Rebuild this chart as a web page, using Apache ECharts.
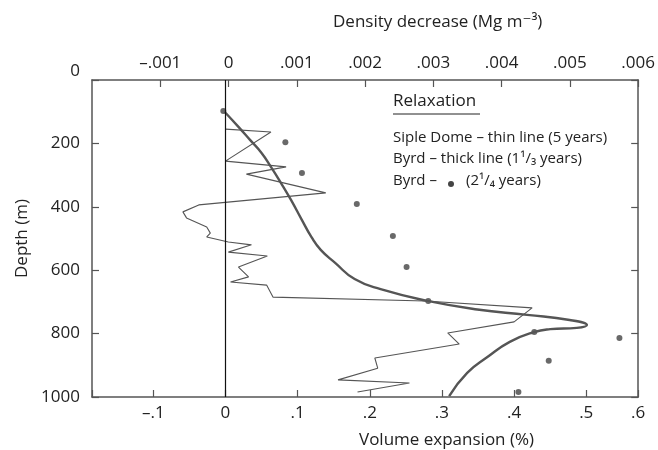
<!DOCTYPE html>
<html>
<head>
<meta charset="utf-8">
<script src="https://cdn.jsdelivr.net/npm/echarts@6/dist/echarts.min.js"></script>
<style>
  html, body { margin: 0; padding: 0; background: #fff; }
  #chart { width: 658px; height: 450px; }
</style>
</head>
<body>
<div id="chart"></div>
<script>
// Siple Dome - thin line: [volume expansion (%), depth (m)]
const sipleThin = [
  [0, 155], [0.063, 164], [0, 256], [0.084, 274], [0.029, 297], [0.139, 356],
  [-0.037, 394], [-0.059, 416], [-0.054, 435], [-0.026, 464], [-0.021, 483],
  [-0.026, 495], [0.004, 511], [0.036, 520], [0.004, 543], [0.058, 555],
  [0.018, 590], [0.032, 621], [0.007, 637], [0.057, 647], [0.066, 685],
  [0.277, 697], [0.425, 719], [0.4, 763], [0.308, 798], [0.324, 833],
  [0.207, 877], [0.211, 909], [0.156, 946], [0.255, 956], [0.183, 984]
];

// Byrd - thick line (1 1/3 years)
const byrdThick = [
  [-0.001, 101], [0.018, 148], [0.034, 189], [0.05, 230], [0.063, 274],
  [0.077, 325], [0.091, 379], [0.106, 442], [0.119, 495], [0.132, 536],
  [0.152, 577], [0.179, 628], [0.215, 660], [0.28, 697], [0.349, 724],
  [0.418, 741], [0.477, 757], [0.501, 773], [0.487, 782], [0.45, 786],
  [0.428, 795], [0.394, 826], [0.363, 874], [0.335, 924], [0.31, 997]
];

// Byrd - dots (2 1/4 years)
const byrdDots = [
  [-0.003, 98], [0.083, 196], [0.106, 293], [0.182, 391], [0.232, 492],
  [0.251, 590], [0.281, 697], [0.428, 795], [0.546, 814], [0.448, 886],
  [0.406, 984]
];

const depthTicks = [0, 1000, 200];           // min, max, step
const volumeRange = [-0.185, 0.572];         // bottom axis extent
const densityRange = [-0.002, 0.006, 0.001]; // top axis extent + step

const FONT = "'Open Sans', 'DejaVu Sans', sans-serif";
const INK = '#222';
const FRAME = '#555';

function fmt(v) {
  if (Math.abs(v) < 1e-9) return '0';
  return String(+v.toFixed(3)).replace('0.', '.').replace('-', '\u2013');
}

const chart = echarts.init(document.getElementById('chart'));

const axisCommon = {
  axisLine: { show: true, onZero: false, lineStyle: { color: FRAME, width: 1.5 } },
  axisTick: { show: true, inside: true, length: 7, lineStyle: { color: FRAME, width: 1.2 } },
  splitLine: { show: false },
  axisLabel: { color: INK, fontFamily: FONT, fontSize: 17 }
};

chart.setOption({
  backgroundColor: '#fff',
  animation: false,
  grid: { left: 92, right: 17, top: 80, bottom: 53 },
  xAxis: [
    Object.assign({}, axisCommon, {
      type: 'value',
      position: 'bottom',
      min: volumeRange[0],
      max: volumeRange[1],
      minInterval: 0.1,
      maxInterval: 0.1,
      splitNumber: 8,
      axisLabel: Object.assign({}, axisCommon.axisLabel, {
        margin: 8,
        showMinLabel: true,
        showMaxLabel: true,
        formatter: function (v) {
          if (v > 0.56) return '.6';
          if (v < -0.15) return '';
          return fmt(v);
        }
      })
    }),
    Object.assign({}, axisCommon, {
      type: 'value',
      position: 'top',
      min: densityRange[0],
      max: densityRange[1],
      interval: densityRange[2],
      axisLabel: Object.assign({}, axisCommon.axisLabel, {
        margin: 8,
        showMinLabel: false,
        formatter: fmt
      })
    })
  ],
  yAxis: [
    Object.assign({}, axisCommon, {
      type: 'value',
      position: 'left',
      inverse: true,
      min: depthTicks[0],
      max: depthTicks[1],
      interval: depthTicks[2],
      name: 'Depth (m)',
      nameLocation: 'middle',
      nameGap: 52,
      nameTextStyle: { color: INK, fontFamily: FONT, fontSize: 17 },
      axisLabel: Object.assign({}, axisCommon.axisLabel, {
        margin: 12,
        // the top "0" sits a little above the frame in the original
        formatter: function (v) { return v === 0 ? '{up|0}' : String(v); },
        rich: { up: { color: INK, fontFamily: FONT, fontSize: 17, padding: [0, 0, 18, 0] } }
      })
    }),
    Object.assign({}, axisCommon, {
      type: 'value',
      position: 'right',
      inverse: true,
      min: depthTicks[0],
      max: depthTicks[1],
      interval: depthTicks[2],
      axisLabel: { show: false }
    })
  ],
  series: [
    {
      name: 'Siple Dome',
      type: 'line',
      xAxisIndex: 0,
      yAxisIndex: 0,
      data: sipleThin,
      showSymbol: false,
      lineStyle: { color: '#555', width: 1.1 },
      markLine: {
        silent: true,
        symbol: 'none',
        label: { show: false },
        lineStyle: { color: '#111', width: 1.2, type: 'solid' },
        data: [{ xAxis: 0 }]
      }
    },
    {
      name: 'Byrd thick',
      type: 'line',
      xAxisIndex: 0,
      yAxisIndex: 0,
      data: byrdThick,
      smooth: 0.5,
      showSymbol: false,
      lineStyle: { color: '#555', width: 2.4 }
    },
    {
      name: 'Byrd dots',
      type: 'scatter',
      xAxisIndex: 0,
      yAxisIndex: 0,
      data: byrdDots,
      symbolSize: 6,
      itemStyle: { color: '#444' }
    }
  ],
  graphic: [
    {
      type: 'text', left: 333, top: 14,
      style: { text: 'Density decrease (Mg m\u207B\u00B3)', fill: INK, font: '17px ' + FONT }
    },
    {
      type: 'text', left: 359, top: 432,
      style: { text: 'Volume expansion (%)', fill: INK, font: '17px ' + FONT }
    },
    {
      type: 'text', left: 393, top: 93,
      style: { text: 'Relaxation', fill: INK, font: '17px ' + FONT }
    },
    {
      type: 'line', shape: { x1: 393, y1: 114, x2: 480, y2: 114 },
      style: { stroke: INK, lineWidth: 1 }
    },
    {
      type: 'text', left: 393, top: 130,
      style: { text: 'Siple Dome \u2013 thin line (5 years)', fill: INK, font: '15px ' + FONT }
    },
    {
      type: 'text', left: 393, top: 151,
      style: { text: 'Byrd \u2013 thick line (1\u00B9/\u2083 years)', fill: INK, font: '15px ' + FONT }
    },
    {
      type: 'text', left: 393, top: 173,
      style: { text: 'Byrd \u2013', fill: INK, font: '15px ' + FONT }
    },
    {
      type: 'circle', shape: { cx: 451, cy: 184, r: 3 },
      style: { fill: '#444' }
    },
    {
      type: 'text', left: 466, top: 173,
      style: { text: '(2\u00B9/\u2084 years)', fill: INK, font: '15px ' + FONT }
    }
  ]
});
</script>
</body>
</html>
